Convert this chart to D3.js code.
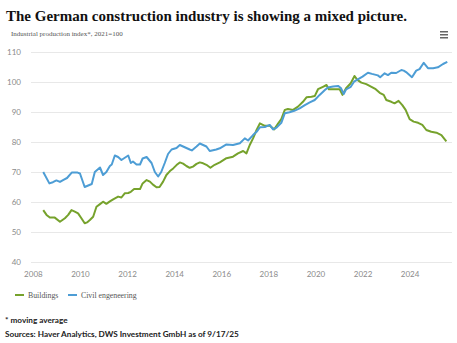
<!DOCTYPE html>
<html>
<head>
<meta charset="utf-8">
<script src="https://cdn.jsdelivr.net/npm/d3@7"></script>
<style>
  body { margin: 0; background: #fff; }
  svg { display: block; }
</style>
</head>
<body>
<svg id="chart" width="457" height="343"></svg>
<script>
(function (d3) {
  'use strict';

  // readings, decimal years
  const buildingsYears = [2008.44, 2008.58, 2008.72, 2008.93, 2009.15, 2009.36, 2009.5, 2009.64, 2009.78, 2009.92,
    2010.06, 2010.2, 2010.3, 2010.42, 2010.56, 2010.7, 2010.85, 2010.98, 2011.12, 2011.27, 2011.41, 2011.62, 2011.76,
    2011.9, 2012.05, 2012.16, 2012.3, 2012.55, 2012.66, 2012.83, 2012.97, 2013.1, 2013.25, 2013.38, 2013.53, 2013.67,
    2013.82, 2013.96, 2014.1, 2014.24, 2014.38, 2014.52, 2014.66, 2014.8, 2014.95, 2015.09, 2015.23, 2015.37, 2015.54,
    2015.72, 2015.94, 2016.22, 2016.5, 2016.71, 2016.93, 2017.07, 2017.21, 2017.35, 2017.5, 2017.64, 2017.85, 2018.06,
    2018.25, 2018.42, 2018.55, 2018.7, 2018.83, 2019.05, 2019.26, 2019.47, 2019.62, 2019.83, 2019.97, 2020.11, 2020.32,
    2020.47, 2020.57, 2020.75, 2021.03, 2021.15, 2021.3, 2021.5, 2021.66, 2021.78, 2021.95, 2022.16, 2022.38, 2022.56,
    2022.73, 2022.9, 2023.01, 2023.22, 2023.36, 2023.53, 2023.69, 2023.83, 2024.0, 2024.17, 2024.36, 2024.54, 2024.71,
    2024.92, 2025.14, 2025.35, 2025.56];
  const buildings = [57.3, 55.7, 54.8, 54.8, 53.4, 54.6, 55.7, 57.3, 56.8, 56.2,
    54.6, 52.9, 53.2, 54.0, 55.1, 58.4, 59.3, 60.1, 59.4, 60.2, 60.9, 61.8, 61.5,
    62.9, 63.0, 63.4, 64.3, 64.3, 66.2, 67.3, 66.8, 65.8, 64.9, 65.0, 66.8, 69.0,
    70.3, 71.2, 72.3, 73.2, 72.8, 72.0, 71.4, 71.8, 72.7, 73.2, 72.9, 72.4, 71.4,
    72.4, 73.2, 74.6, 75.1, 76.2, 77.0, 76.2, 79.0, 81.2, 84.0, 86.2, 85.4, 85.4,
    84.2, 86.2, 87.6, 90.7, 91.0, 90.7, 91.8, 93.4, 94.9, 95.1, 95.3, 97.6, 98.4,
    99.0, 97.6, 97.6, 97.6, 95.7, 97.9, 99.6, 102.0, 100.7, 99.8, 99.3, 98.4, 97.6,
    96.4, 95.7, 94.0, 93.4, 92.9, 93.7, 92.3, 90.7, 87.6, 86.8, 86.4, 85.7, 84.0,
    83.4, 83.1, 82.3, 80.2];

  const civilYears = [2008.44, 2008.7, 2008.85, 2009.0, 2009.15, 2009.3, 2009.45, 2009.65, 2009.9, 2010.0,
    2010.2, 2010.35, 2010.5, 2010.63, 2010.85, 2010.98, 2011.12, 2011.27, 2011.35, 2011.48, 2011.62, 2011.76, 2012.05,
    2012.16, 2012.25, 2012.4, 2012.55, 2012.66, 2012.83, 2013.04, 2013.18, 2013.32, 2013.45, 2013.6, 2013.74, 2013.89,
    2014.1, 2014.24, 2014.38, 2014.52, 2014.66, 2014.75, 2014.95, 2015.09, 2015.23, 2015.37, 2015.51, 2015.79, 2015.94,
    2016.22, 2016.5, 2016.79, 2017.0, 2017.14, 2017.35, 2017.5, 2017.64, 2017.85, 2018.06, 2018.2, 2018.35, 2018.55,
    2018.7, 2018.9, 2019.1, 2019.33, 2019.55, 2019.76, 2019.97, 2020.18, 2020.4, 2020.53, 2020.75, 2020.96, 2021.08,
    2021.2, 2021.3, 2021.5, 2021.64, 2021.8, 2022.0, 2022.23, 2022.4, 2022.65, 2022.75, 2022.94, 2023.08, 2023.22,
    2023.43, 2023.65, 2023.75, 2023.85, 2024.1, 2024.28, 2024.42, 2024.6, 2024.78, 2025.0, 2025.2, 2025.42, 2025.6];
  const civil = [70.0, 66.2, 66.6, 67.2, 66.7, 67.4, 68.0, 69.8, 69.8, 69.5,
    65.0, 65.5, 66.0, 70.0, 71.5, 69.0, 70.0, 72.0, 72.5, 75.5, 75.0, 74.0, 75.5,
    73.0, 73.5, 72.5, 72.5, 74.5, 75.0, 73.0, 70.0, 68.5, 70.0, 73.0, 76.0, 77.5,
    78.0, 79.0, 78.5, 78.0, 77.5, 77.2, 78.5, 79.5, 79.0, 78.5, 77.0, 77.5, 77.9,
    79.2, 79.0, 79.6, 81.2, 80.5, 82.3, 83.4, 84.9, 85.0, 85.7, 84.2, 84.8, 86.4,
    89.6, 89.9, 90.4, 91.2, 92.3, 93.2, 94.0, 95.7, 97.3, 98.2, 98.5, 98.7, 98.0,
    96.0, 97.5, 98.4, 100.1, 100.9, 101.8, 103.1, 102.7, 102.2, 101.6, 102.9, 102.3, 103.1,
    103.0, 104.0, 103.8, 103.3, 101.6, 103.8, 104.3, 106.4, 104.6, 104.6, 104.9, 106.0, 106.7];

  const yTicks = [40, 50, 60, 70, 80, 90, 100, 110];
  const xTicks = [2008, 2010, 2012, 2014, 2016, 2018, 2020, 2022, 2024];

  const seriesNames = ['Buildings', 'Civil engeneering'];
  const seriesColors = ['#76a22c', '#4d9dd5'];

  const svg = d3.select('#chart');

  const x = d3.scaleLinear().domain([2007.92, 2025.8]).range([31, 452]);
  const y = d3.scaleLinear().domain([40, 110]).range([262, 52]);

  // title + subtitle
  svg.append('text')
    .attr('x', 6).attr('y', 21)
    .attr('font-family', 'Liberation Serif')
    .attr('font-weight', 'bold')
    .attr('font-size', 15)
    .attr('fill', '#111')
    .text('The German construction industry is showing a mixed picture.');

  svg.append('text')
    .attr('x', 11).attr('y', 36)
    .attr('font-family', 'Liberation Serif')
    .attr('font-size', 7)
    .attr('fill', '#555')
    .text('Industrial production index*, 2021=100');

  // burger menu
  svg.append('g').selectAll('rect').data([0, 1, 2]).join('rect')
    .attr('x', 440).attr('y', d => 31 + d * 3)
    .attr('width', 8).attr('height', 1.5)
    .attr('fill', '#666');

  // y grid
  const yAxis = d3.axisLeft(y)
    .tickValues(yTicks)
    .tickSize(-(x.range()[1] - x.range()[0]))
    .tickPadding(10);
  const yG = svg.append('g')
    .attr('transform', `translate(${x.range()[0]},0)`)
    .call(yAxis);
  yG.select('.domain').remove();
  yG.selectAll('.tick line').attr('stroke', '#e8e8e8').attr('stroke-width', 1);
  yG.selectAll('.tick text')
    .attr('x', -10)
    .attr('fill', '#8a8a8a')
    .attr('font-family', 'Lato')
    .attr('font-size', 8);

  // x axis labels
  const xAxis = d3.axisBottom(x).tickValues(xTicks).tickFormat(d3.format('d')).tickSize(0).tickPadding(9);
  const xG = svg.append('g')
    .attr('transform', `translate(0,${y.range()[0]})`)
    .call(xAxis);
  xG.select('.domain').remove();
  xG.selectAll('.tick text')
    .attr('fill', '#8a8a8a')
    .attr('font-family', 'Lato')
    .attr('font-size', 8);

  // lines
  const line = d3.line().x(d => x(d[0])).y(d => y(d[1]));
  const series = [
    d3.zip(buildingsYears, buildings),
    d3.zip(civilYears, civil)
  ];
  svg.append('g').selectAll('path').data(series).join('path')
    .attr('d', line)
    .attr('fill', 'none')
    .attr('stroke', (d, i) => seriesColors[i])
    .attr('stroke-width', 2)
    .attr('stroke-linejoin', 'round');

  // legend
  const legendX = [15, 68];
  const legend = svg.append('g').selectAll('g').data(seriesNames).join('g')
    .attr('transform', (d, i) => `translate(${legendX[i]},295)`);
  legend.append('line')
    .attr('x1', 0).attr('x2', 9)
    .attr('stroke', (d, i) => seriesColors[i])
    .attr('stroke-width', 2);
  legend.append('text')
    .attr('x', 13).attr('y', 2.5)
    .attr('font-family', 'Liberation Serif')
    .attr('font-size', 7.8)
    .attr('fill', '#555')
    .text(d => d);

  // notes
  svg.append('text')
    .attr('x', 5).attr('y', 323)
    .attr('font-family', 'Lato')
    .attr('font-weight', 'bold')
    .attr('font-size', 8.2)
    .attr('fill', '#222')
    .text('* moving average');

  svg.append('text')
    .attr('x', 5).attr('y', 337)
    .attr('font-family', 'Lato')
    .attr('font-weight', 'bold')
    .attr('font-size', 8.2)
    .attr('fill', '#222')
    .text('Sources: Haver Analytics, DWS Investment GmbH as of 9/17/25');

}(d3));
</script>
</body>
</html>
